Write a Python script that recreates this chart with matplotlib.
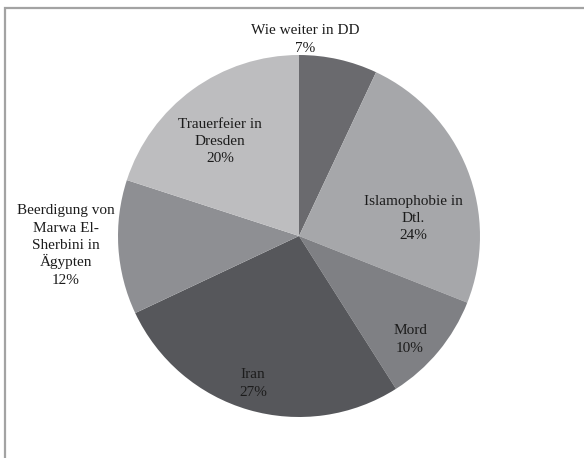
import matplotlib
matplotlib.use("Agg")
import matplotlib.pyplot as plt
from matplotlib.patches import Rectangle

# Topics and their shares (percent)
labels = ["Wie weiter in DD", "Islamophobie in\nDtl.", "Mord", "Iran",
          "Beerdigung von\nMarwa El-\nSherbini in\nÄgypten", "Trauerfeier in\nDresden"]
shares = [7, 24, 10, 27, 12, 20]
colors = ["#6a6a6e", "#a6a7aa", "#7f8084", "#56575b", "#8e8f93", "#bdbdbf"]

# Label anchor points (pixel offsets from the pie centre, y pointing up)
label_offsets = [(6, 197), (114, 18), (111, -103), (-46, -147), (-233, -9), (-79, 95)]
line_step = 17.3   # pixels between label baselines

W, H = 584, 458
fig = plt.figure(figsize=(W / 100, H / 100), dpi=100)
ax = fig.add_axes([0, 0, 1, 1])

cx, cy, r = 299, H - 236, 181
wedges, _ = ax.pie(shares, colors=colors, startangle=90, counterclock=False,
                   center=(cx, cy), radius=r, frame=True,
                   wedgeprops=dict(linewidth=0))

# Each label line is drawn on its own baseline so the spacing stays even
for lab, val, (dx, dy) in zip(labels, shares, label_offsets):
    lines = lab.split("\n") + [f"{val}%"]
    n = len(lines)
    top = cy + dy + (n - 1) / 2 * line_step
    for i, line in enumerate(lines):
        ax.text(cx + dx, top - i * line_step - 4, line, ha="center", va="baseline",
                fontsize=11, family="Liberation Serif", color="#1c1c1c")

ax.set_xlim(0, W)
ax.set_ylim(0, H)
ax.set_aspect("equal")
ax.axis("off")

# Chart area border
ax.add_patch(Rectangle((5, -5), W + 10, H - 8 + 5, fill=False,
                       edgecolor="#a3a3a3", linewidth=1.6, clip_on=False))

fig.savefig("out.png", dpi=100)
